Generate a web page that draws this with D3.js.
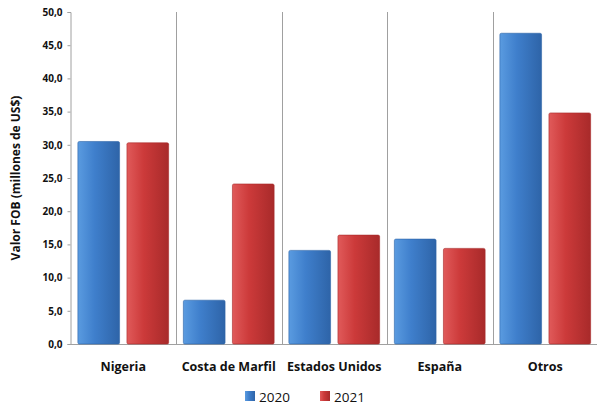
<!DOCTYPE html>
<head>
<meta charset="utf-8">
<script src="https://cdn.jsdelivr.net/npm/d3@7"></script>
<style>body{margin:0;background:#fff}text{font-family:"Open Sans",sans-serif}</style>
</head>
<body>
<script>
var categories = ["Nigeria", "Costa de Marfil", "Estados Unidos", "España", "Otros"]
var series = ["2020", "2021"]
var values2020 = [30.5, 6.6, 14.1, 15.8, 46.8]
var values2021 = [30.3, 24.1, 16.4, 14.4, 34.8]
var yTicks = [0, 5, 10, 15, 20, 25, 30, 35, 40, 45, 50]

var svg = d3.select("body").append("svg").attr("width", 597).attr("height", 404)
var defs = svg.append("defs")
var colors = {"2020": ["#5a9be0", "#3f7fcc", "#2e64a8"], "2021": ["#e05a5a", "#cc3a3a", "#a82a2a"]}
series.forEach(function(s) {
  var g = defs.append("linearGradient").attr("id", "g" + s)
  g.append("stop").attr("offset", "0%").attr("stop-color", colors[s][0])
  g.append("stop").attr("offset", "40%").attr("stop-color", colors[s][1])
  g.append("stop").attr("offset", "100%").attr("stop-color", colors[s][2])
})

var x = d3.scaleBand().domain(categories).range([70.5, 598])
var xs = d3.scaleBand().domain(series).range([0, x.bandwidth()]).paddingInner(0.15).paddingOuter(0.15)
var y = d3.scaleLinear().domain([0, 50]).range([344, 12])

// separators
svg.selectAll(".sep").data(categories.slice(1)).enter().append("line")
  .attr("x1", function(d) { return Math.round(x(d)) + 0.5 }).attr("x2", function(d) { return Math.round(x(d)) + 0.5 })
  .attr("y1", 12).attr("y2", 344).attr("stroke", "#a0a0a0")

var yAxis = svg.append("g").attr("transform", "translate(70.5,0)")
  .call(d3.axisLeft(y).tickValues(yTicks).tickSize(3).tickFormat(function(d) { return d3.format(".1f")(d).replace(".", ",") }))
yAxis.select(".domain").attr("stroke", "#a0a0a0")
yAxis.selectAll(".tick line").attr("stroke", "#a0a0a0")
yAxis.selectAll("text").attr("font-size", 10).attr("font-weight", "bold").attr("fill", "#111").attr("x", -8)

svg.append("line").attr("x1", 70).attr("x2", 598).attr("y1", 344.5).attr("y2", 344.5).attr("stroke", "#a0a0a0")

var data = []
categories.forEach(function(c, i) {
  data.push({c: c, s: "2020", v: values2020[i]})
  data.push({c: c, s: "2021", v: values2021[i]})
})
svg.selectAll(".bar").data(data).enter().append("rect")
  .attr("x", function(d) { return x(d.c) + xs(d.s) })
  .attr("width", xs.bandwidth())
  .attr("y", function(d) { return y(d.v) })
  .attr("height", function(d) { return 344 - y(d.v) })
  .attr("rx", 1.5)
  .attr("fill", function(d) { return "url(#g" + d.s + ")" })
  .attr("stroke", function(d) { return colors[d.s][2] }).attr("stroke-width", 0.6)

svg.selectAll(".cat").data(categories).enter().append("text")
  .attr("x", function(d) { return x(d) + x.bandwidth() / 2 })
  .attr("y", 371).attr("text-anchor", "middle")
  .attr("font-size", 12.5).attr("font-weight", "bold").attr("fill", "#111").text(function(d) { return d })

svg.append("text").attr("transform", "translate(20,178) rotate(-90)").attr("text-anchor", "middle")
  .attr("font-size", 12).attr("font-weight", "bold").attr("fill", "#111").text("Valor FOB (millones de US$)")

var legend = svg.selectAll(".leg").data(series).enter().append("g")
  .attr("transform", function(d, i) { return "translate(245," + 391 + ") translate(" + (i * 75) + ",0)" })
legend.append("rect").attr("width", 10).attr("height", 10).attr("fill", function(d) { return "url(#g" + d + ")" })
legend.append("text").attr("x", 14).attr("y", 10.5).attr("font-size", 13.5).attr("fill", "#111").text(function(d) { return d })
</script>
</body>
